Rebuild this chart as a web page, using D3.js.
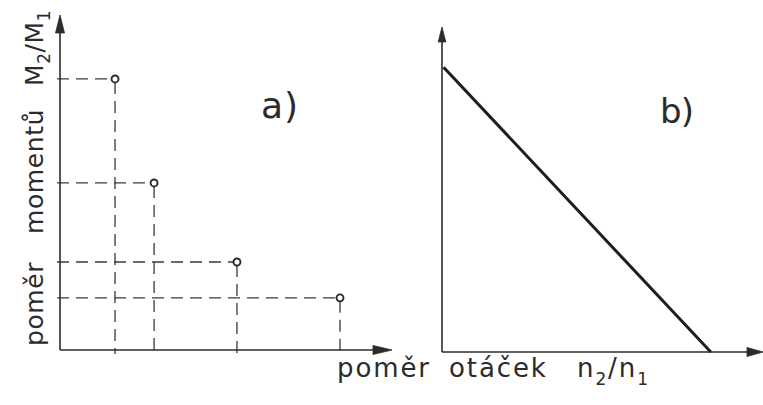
<!DOCTYPE html>
<html>
<head>
<meta charset="utf-8">
<script src="https://cdn.jsdelivr.net/npm/d3@7"></script>
<style>
  html, body { margin: 0; padding: 0; background: #fff; }
  svg { display: block; }
  text { font-family: "DejaVu Sans", sans-serif; fill: #2b2b2b; }
</style>
</head>
<body>
<svg id="chart" width="763" height="405"></svg>
<script>
// Panel a: operating points (speed ratio, torque ratio)
const pointSpeedRatio  = [1.72, 2.94, 5.53, 8.75];
const pointTorqueRatio = [8.47, 5.22, 2.75, 1.63];

// Panel b: linear characteristic, start and end points
const lineSpeedRatio  = [0.05, 8.4];
const lineTorqueRatio = [8.9, 0];

// Axis titles and panel tags ("|" marks subscript parts)
const yTitleWords = ["poměr", "momentů", "M|2|/M|1"];
const xTitleWords = ["poměr", "otáček", "n|2|/n|1"];
const panelTags = ["a)", "b)"];

const ink = "#2b2b2b";
const svg = d3.select("#chart");

// scales for both panels
const xA = d3.scaleLinear().domain([0, 10]).range([60, 380]);
const yA = d3.scaleLinear().domain([0, 10]).range([350, 30]);
const xB = d3.scaleLinear().domain([0, 10]).range([442, 762]);
const yB = d3.scaleLinear().domain([0, 10]).range([352, 32]);

function arrowHead(g, tipX, tipY, dir, len, half) {
  let pts;
  if (dir === "up") pts = [[tipX, tipY], [tipX - half, tipY + len], [tipX + half, tipY + len]];
  else pts = [[tipX, tipY], [tipX - len, tipY - half], [tipX - len, tipY + half]];
  g.append("path").attr("d", d3.line()(pts) + "Z").attr("fill", ink).attr("stroke", ink).attr("stroke-width", 0.8);
}

function drawAxes(g, x, y, topY, rightX, upLen, upHalf, rLen, rHalf) {
  g.append("line")
    .attr("x1", x(0)).attr("y1", y(0)).attr("x2", x(0)).attr("y2", topY + upLen - 1)
    .attr("stroke", ink).attr("stroke-width", 1.6);
  g.append("line")
    .attr("x1", x(0)).attr("y1", y(0)).attr("x2", rightX - rLen + 1).attr("y2", y(0))
    .attr("stroke", ink).attr("stroke-width", 1.6);
  arrowHead(g, x(0), topY, "up", upLen, upHalf);
  arrowHead(g, rightX, y(0), "right", rLen, rHalf);
}

// ---- panel a ----
const gA = svg.append("g");
const ptsA = pointSpeedRatio.map((v, i) => ({ x: v, y: pointTorqueRatio[i] }));

// dashed guides from each point to the axes
gA.selectAll("line.h").data(ptsA).join("line")
  .attr("class", "h")
  .attr("x1", xA(0) - 3).attr("y1", d => yA(d.y))
  .attr("x2", d => xA(d.x) - 3).attr("y2", d => yA(d.y))
  .attr("stroke", "#3a3a3a").attr("stroke-width", 1.3)
  .attr("stroke-dasharray", "12,7");
gA.selectAll("line.v").data(ptsA).join("line")
  .attr("class", "v")
  .attr("x1", d => xA(d.x)).attr("y1", d => yA(d.y) + 3)
  .attr("x2", d => xA(d.x)).attr("y2", yA(0) + 4)
  .attr("stroke", "#3a3a3a").attr("stroke-width", 1.3)
  .attr("stroke-dasharray", "12,7");

drawAxes(gA, xA, yA, 15, 392, 18, 4.5, 19, 4.5);

gA.selectAll("circle").data(ptsA).join("circle")
  .attr("cx", d => xA(d.x)).attr("cy", d => yA(d.y)).attr("r", 3.5)
  .attr("fill", "#fff").attr("stroke", ink).attr("stroke-width", 1.9);

// ---- panel b ----
const gB = svg.append("g");
drawAxes(gB, xB, yB, 27, 763, 15, 3.8, 16, 4.5);
const ptsB = lineSpeedRatio.map((v, i) => [xB(v), yB(lineTorqueRatio[i])]);
gB.append("path").attr("d", d3.line()(ptsB))
  .attr("fill", "none").attr("stroke", "#1e1e1e").attr("stroke-width", 3);

// ---- panel tags ----
svg.append("text").attr("x", 261).attr("y", 118).attr("font-size", 36)
  .attr("textLength", 37).attr("lengthAdjust", "spacing").text(panelTags[0]);
svg.append("text").attr("x", 660).attr("y", 123).attr("font-size", 34)
  .attr("textLength", 34).attr("lengthAdjust", "spacing").text(panelTags[1]);

// ---- axis titles ----
function writeWord(sel, word, subSize, subDrop) {
  const parts = word.split("|");
  parts.forEach((p, i) => {
    const sub = i % 2 === 1;
    sel.append("tspan")
      .attr("font-size", sub ? subSize : null)
      .attr("dy", i === 0 ? 0 : (sub ? subDrop : -subDrop))
      .text(p);
  });
}

// horizontal title: word start positions
const xWordStart = [337, 449, 577];
xTitleWords.forEach((w, i) => {
  const t = svg.append("text").attr("x", xWordStart[i]).attr("y", 377).attr("font-size", 26)
    .attr("letter-spacing", 1.9);
  writeWord(t, w, 17, 8);
});

// vertical title, read bottom to top
const yTitle = svg.append("g").attr("transform", "translate(43,0) rotate(-90)");
const yWordStart = [346, 234, 86];
yTitleWords.forEach((w, i) => {
  const t = yTitle.append("text").attr("x", -yWordStart[i]).attr("y", 0).attr("font-size", 25)
    .attr("letter-spacing", 0.6);
  writeWord(t, w, 17, 7);
});
</script>
</body>
</html>
